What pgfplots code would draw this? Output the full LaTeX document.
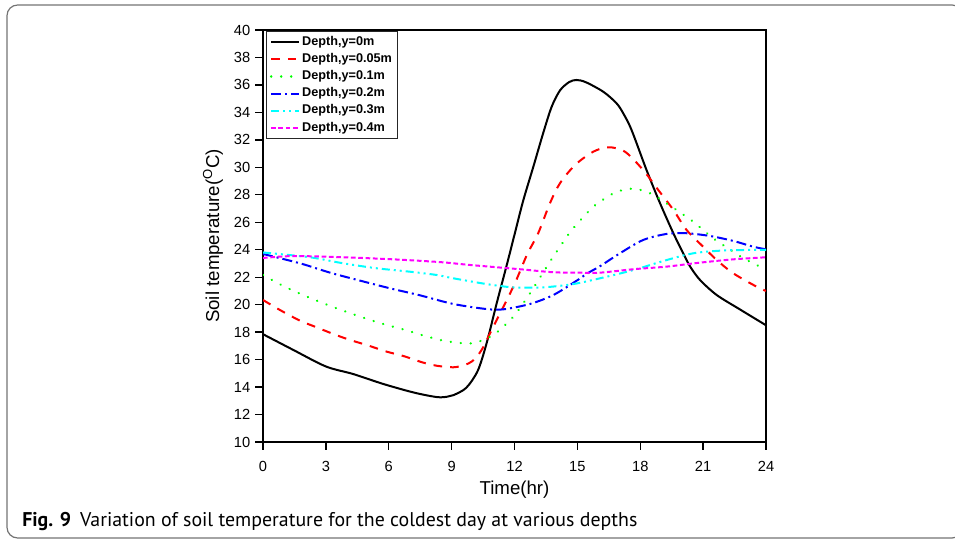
\documentclass[border=0pt]{standalone}
\usepackage{fontspec}
\setmainfont{Liberation Sans}
\newfontfamily\capfont{PT Sans}
\usepackage{pgfplots}
\pgfplotsset{compat=1.18}
\definecolor{cRed}{RGB}{255,0,0}
\definecolor{cGreen}{RGB}{0,255,0}
\definecolor{cBlue}{RGB}{0,0,255}
\definecolor{cCyan}{RGB}{0,255,255}
\definecolor{cMag}{RGB}{255,0,255}

\begin{document}
\begin{tikzpicture}
\useasboundingbox (0pt,0pt) rectangle (716.25pt,405.75pt);
% outer frame of the figure
\draw[black!55, line width=0.9pt, rounded corners=8pt] (5.25pt,2.25pt) rectangle (722pt,402pt);
\node[anchor=base west, inner sep=0pt, font=\capfont\fontsize{14.9}{17}\selectfont]
  at (16.5pt,10.5pt) {\textbf{Fig. 9}\hspace{0.45em}Variation of soil temperature for the coldest day at various depths};

\begin{axis}[
  at={(197.25pt,74.25pt)}, anchor=south west,
  scale only axis, width=377.25pt, height=309pt,
  xmin=0, xmax=24, ymin=10, ymax=40,
  xtick={0,3,...,24}, ytick={10,12,...,40},
  tick pos=left, tick align=outside, major tick length=6pt,
  axis line style={line width=1pt},
  tick style={line width=1pt, black},
  ticklabel style={font=\fontsize{11}{13}\selectfont},
  xticklabel style={yshift=-5pt},
  /pgf/number format/assume math mode=true,
  xlabel={Time(hr)},
  ylabel={Soil temperature(\textsuperscript{O}C)},
  label style={font=\fontsize{14}{16}\selectfont},
  xlabel style={at={(axis description cs:0.5,-0.115)}, anchor=center},
  ylabel style={at={(axis description cs:-0.0994,0.5)}, anchor=center},
  legend style={at={(axis description cs:0.006,0.9976)}, anchor=north west,
    draw=black!85, line width=0.9pt,
    font=\bfseries\fontsize{9.5}{11}\selectfont,
    nodes={inner sep=1.4pt, text height=7.2pt, text depth=2.2pt},
    row sep=0.6pt, inner xsep=2.5pt, inner ysep=2pt},
  legend cell align=left,
  legend image code/.code={\draw[#1] (1pt,0pt) -- (22pt,0pt);},
]
% Depth 0 m
\addplot[black, line width=1.5pt, smooth, tension=0.5] coordinates {
  (0,17.85)(1.45,16.7)(3.0,15.5)(4.3,14.95)(5.75,14.22)(7.2,13.6)(8.3,13.27)
  (8.8,13.3)(9.1,13.42)(9.7,13.95)(10.25,15.2)(10.67,17.2)(11.15,20.1)(11.65,23.0)
  (12.05,25.4)(12.42,27.6)(12.9,30.05)(13.37,32.5)(13.77,34.4)(14.17,35.6)(14.6,36.2)
  (14.95,36.36)(15.4,36.2)(16.24,35.5)(16.87,34.66)(17.2,33.9)(17.59,32.7)(18.3,29.8)
  (18.94,27.4)(19.58,25.2)(20.05,23.74)(20.37,22.8)(20.85,21.8)(21.65,20.7)(22.76,19.65)(24,18.5)
};
\addlegendentry{Depth,y=0m}
% Depth 0.05 m
\addplot[cRed, line width=1.5pt, smooth, tension=0.5, dash pattern=on 6.5pt off 6pt] coordinates {
  (0,20.34)(0.81,19.61)(1.77,18.83)(2.56,18.35)(3.36,17.86)(4.15,17.43)(4.95,17.06)
  (5.9,16.58)(6.7,16.26)(7.6,15.8)(8.3,15.55)(9.08,15.44)(9.6,15.6)(10.0,15.9)(10.43,16.7)
  (10.91,18.16)(11.47,19.85)(12.02,21.56)(12.6,23.65)(13.13,25.2)(13.69,27.38)(14.17,28.84)
  (14.89,30.17)(15.76,31.14)(16.5,31.46)(17.27,31.14)(18.14,29.8)(18.86,28.35)(19.58,26.9)
  (20.21,25.44)(21.0,24.22)(21.65,23.25)(22.44,22.28)(23.55,21.31)(24,21.0)
};
\addlegendentry{Depth,y=0.05m}
% Depth 0.1 m
\addplot[cGreen, line width=1.8pt, line cap=round, smooth, tension=0.5, dash pattern=on 0.1pt off 7.4pt] coordinates {
  (0,22.16)(0.97,21.36)(1.92,20.7)(2.88,20.1)(3.83,19.56)(4.79,19.05)(5.74,18.59)
  (6.69,18.2)(7.65,17.76)(8.6,17.38)(9.56,17.19)(10.11,17.23)(10.99,17.79)(11.94,19.12)
  (12.74,20.83)(13.69,23.13)(14.41,24.75)(14.8,25.56)(15.76,27.13)(16.71,28.1)(17.19,28.35)
  (17.7,28.45)(18.14,28.3)(18.62,27.99)(19.5,27.13)(20.53,26.04)(21.48,24.83)(22.44,23.86)
  (22.9,23.4)(23.87,22.65)(24,22.6)
};
\addlegendentry{Depth,y=0.1m}
% Depth 0.2 m
\addplot[cBlue, line width=1.5pt, smooth, tension=0.5, dash pattern=on 7.5pt off 3pt on 1.5pt off 3pt] coordinates {
  (0,23.69)(1.77,23.01)(3.2,22.33)(4.63,21.75)(6.06,21.19)(7.49,20.68)(9.08,20.05)
  (10.67,19.68)(11.47,19.66)(12.74,20.05)(13.85,20.7)(14.89,21.67)(15.5,22.3)(16.08,22.8)
  (17.03,23.74)(18.14,24.71)(19.26,25.15)(20.21,25.2)(21.33,25.0)(22.44,24.64)(23.39,24.22)(24,24.03)
};
\addlegendentry{Depth,y=0.2m}
% Depth 0.3 m
\addplot[cCyan, line width=1.5pt, smooth, tension=0.5, dash pattern=on 6pt off 3pt on 1.5pt off 3pt on 1.5pt off 3pt] coordinates {
  (0,23.8)(2.24,23.45)(3.83,23.01)(5.42,22.65)(7.01,22.4)(8.29,22.16)(9.08,21.92)
  (10.67,21.5)(11.94,21.26)(13.37,21.26)(14.8,21.5)(16.08,21.92)(17.67,22.52)(19.26,23.25)
  (20.53,23.74)(21.8,23.93)(22.92,23.98)(24,23.98)
};
\addlegendentry{Depth,y=0.3m}
% Depth 0.4 m
\addplot[cMag, line width=1.5pt, smooth, tension=0.5, dash pattern=on 3.5pt off 2pt] coordinates {
  (0,23.4)(1.45,23.54)(3.83,23.45)(6.22,23.3)(8.44,23.1)(9.88,22.89)(12.26,22.58)
  (13.85,22.36)(15.12,22.33)(16.08,22.33)(17.67,22.58)(19.26,22.77)(20.85,23.06)
  (22.44,23.3)(24,23.45)
};
\addlegendentry{Depth,y=0.4m}
\end{axis}
\end{tikzpicture}
\end{document}
